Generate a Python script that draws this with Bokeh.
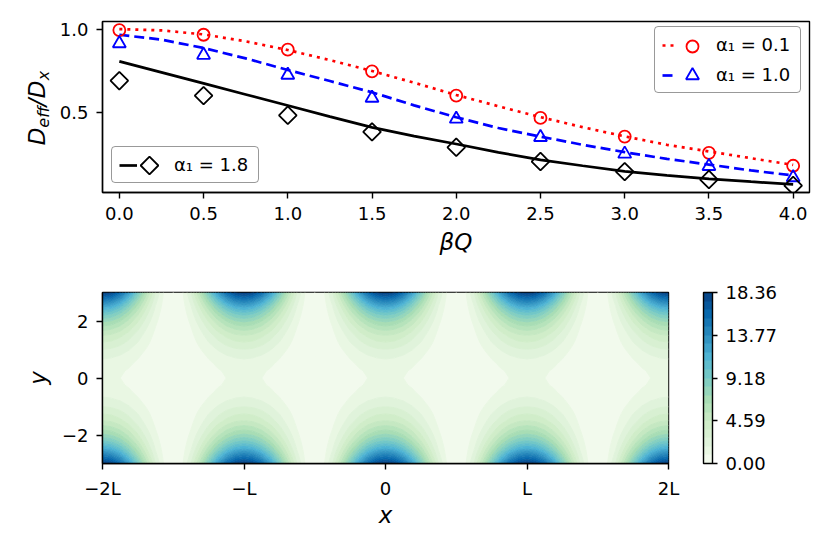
import numpy as np
from bokeh.embed import file_html
from bokeh.resources import INLINE
from bokeh.layouts import column, row
from bokeh.plotting import figure
from bokeh.models import (Range1d, FixedTicker, Legend, LegendItem, Label, ColorBar,
                          LinearColorMapper, PrintfTickFormatter)
from bokeh.core.properties import value

# ---- upper panel data -------------------------------------------------
beta_q_points = [0.0, 0.5, 1.0, 1.5, 2.0, 2.5, 3.0, 3.5, 4.0]
red_points = [0.994, 0.966, 0.877, 0.748, 0.603, 0.470, 0.359, 0.262, 0.185]
blue_points = [0.914, 0.845, 0.726, 0.589, 0.464, 0.355, 0.256, 0.182, 0.115]
black_points = [0.692, 0.603, 0.486, 0.387, 0.295, 0.210, 0.150, 0.103, 0.067]

beta_q_curve = [0.0, 0.25, 0.5, 0.75, 1.0, 1.25, 1.5, 1.75, 2.0, 2.25, 2.5, 2.75, 3.0, 3.25, 3.5, 3.75, 4.0]
red_curve = [1.0, 0.992, 0.968, 0.927, 0.875, 0.815, 0.75, 0.68, 0.607, 0.54, 0.475, 0.415, 0.36, 0.31, 0.27, 0.23, 0.19]
blue_curve = [0.966, 0.937, 0.887, 0.825, 0.756, 0.69, 0.623, 0.545, 0.474, 0.41, 0.359, 0.31, 0.266, 0.226, 0.192, 0.157, 0.127]
black_curve = [0.807, 0.742, 0.676, 0.61, 0.544, 0.478, 0.414, 0.362, 0.315, 0.265, 0.22, 0.185, 0.152, 0.128, 0.107, 0.09, 0.074]

x_tick_top = [0.0, 0.5, 1.0, 1.5, 2.0, 2.5, 3.0, 3.5, 4.0]
y_tick_top = [0.5, 1.0]

# ---- lower panel data: one quadrant ------------------------------------
# columns: x/L = 0, 1/16, ... 1/2 ; rows: y = 0, 0.25, ... 3
y_quarter = [0, 0.25, 0.5, 0.75, 1, 1.25, 1.5, 1.75, 2, 2.25, 2.5, 2.75, 3]
row_y000 = [1.08, 1.04, 0.92, 0.75, 0.54, 0.33, 0.16, 0.04, 0.0]
row_y025 = [1.20, 1.15, 1.02, 0.83, 0.60, 0.37, 0.18, 0.05, 0.0]
row_y050 = [1.50, 1.44, 1.28, 1.04, 0.75, 0.46, 0.22, 0.06, 0.0]
row_y075 = [2.00, 1.92, 1.71, 1.38, 1.00, 0.62, 0.29, 0.08, 0.0]
row_y100 = [2.72, 2.62, 2.32, 1.88, 1.36, 0.84, 0.40, 0.10, 0.0]
row_y125 = [3.63, 3.49, 3.10, 2.51, 1.82, 1.12, 0.53, 0.14, 0.0]
row_y150 = [4.60, 4.43, 3.93, 3.18, 2.30, 1.42, 0.67, 0.17, 0.0]
row_y175 = [5.95, 5.72, 5.08, 4.11, 2.98, 1.84, 0.87, 0.23, 0.0]
row_y200 = [7.55, 7.26, 6.45, 5.22, 3.78, 2.33, 1.10, 0.29, 0.0]
row_y225 = [9.55, 9.19, 8.16, 6.60, 4.78, 2.95, 1.39, 0.36, 0.0]
row_y250 = [12.0, 11.54, 10.25, 8.29, 6.00, 3.71, 1.75, 0.46, 0.0]
row_y275 = [15.0, 14.43, 12.81, 10.37, 7.50, 4.64, 2.19, 0.57, 0.0]
row_y300 = [18.36, 17.66, 15.68, 12.69, 9.18, 5.67, 2.68, 0.70, 0.0]
z_max = 18.36
band_colors = ["#f2faed", "#e9f7e3", "#e0f3db", "#d8f0d2", "#d0edc9", "#c5e8c2", "#b6e3bb",
               "#a8ddb5", "#96d6bb", "#84cfc1", "#72c7c7", "#60bdcd", "#4eb3d3", "#40a3cb",
               "#3294c2", "#2485ba", "#1676b3", "#0868ac", "#08589b", "#08488a"]
colorbar_ticks = [0.0, 4.59, 9.18, 13.77, 18.36]
x_tick_bottom = [-2, -1, 0, 1, 2]
x_tick_bottom_labels = ["\u22122L", "\u2212L", "0", "L", "2L"]
y_tick_bottom = [-2, 0, 2]
y_tick_bottom_labels = ["\u22122", "0", "2"]

# ---- style ------------------------------------------------------------
FONT = "DejaVu Sans"
TICK = "18px"
LABEL = "23px"


def style(p):
    p.grid.visible = False
    p.outline_line_color = "black"
    p.outline_line_width = 1.4
    for ax in (p.xaxis[0], p.yaxis[0]):
        ax.axis_line_color = "black"
        ax.axis_line_width = 1.4
        ax.major_tick_line_color = "black"
        ax.major_tick_line_width = 1.4
        ax.major_tick_in = 0
        ax.major_tick_out = 6
        ax.major_label_standoff = 8
        ax.minor_tick_line_color = None
        ax.major_label_text_font = FONT
        ax.major_label_text_font_size = TICK
        ax.major_label_text_color = "black"
        ax.axis_label_text_font = FONT
        ax.axis_label_text_font_size = LABEL
        ax.axis_label_text_font_style = "italic"
        ax.axis_label_text_color = "black"


# ---- strip that holds the upper panel's rotated y title -----------------
STRIP = 55
H1 = 268
strip_fig = figure(width=STRIP, height=H1, output_backend="svg", toolbar_location=None,
                   x_axis_location=None, y_axis_location=None, outline_line_color=None,
                   x_range=Range1d(0, STRIP), y_range=Range1d(0, H1), frame_align=False, min_border=0)
strip_fig.grid.visible = False
for txt, mid, base, size in [("D", 136, 36, "23px"), ("eff", 116.5, 42.5, "16px"), ("/", 102, 36, "23px"),
                             ("D", 89, 36, "23px"), ("x", 75, 42.5, "16px")]:
    strip_fig.add_layout(Label(x=base, y=H1 - mid, x_units="screen", y_units="screen", text=txt,
                               angle=np.pi / 2, text_font=FONT,
                               text_font_size=size, text_font_style="italic", text_color="black",
                               text_align="center", text_baseline="middle"))

# ---- upper panel ------------------------------------------------------
XR1 = (-0.1, 4.097)
YR1 = (0.0256, 1.045)
FL1, FR1, FT1, FB1 = 102, 809, 21, 192   # frame edges in page pixels
p1 = figure(width=822 - STRIP, height=H1, output_backend="svg", toolbar_location=None,
            x_range=Range1d(*XR1), y_range=Range1d(*YR1), frame_align=False,
            min_border_left=FL1 - STRIP, min_border_right=822 - FR1, min_border_top=FT1, min_border_bottom=H1 - FB1)
style(p1)
p1.xaxis[0].ticker = FixedTicker(ticks=x_tick_top)
p1.yaxis[0].ticker = FixedTicker(ticks=y_tick_top)
p1.xaxis[0].formatter = PrintfTickFormatter(format="%.1f")
p1.yaxis[0].formatter = PrintfTickFormatter(format="%.1f")
p1.xaxis[0].axis_label = "\u03b2Q"
p1.xaxis[0].axis_label_standoff = 6

LW = 2.7
l_red = p1.line(beta_q_curve, red_curve, line_color="red", line_width=LW, line_dash="3 5")
l_blue = p1.line(beta_q_curve, blue_curve, line_color="blue", line_width=LW, line_dash="10 5")
l_black = p1.line(beta_q_curve, black_curve, line_color="black", line_width=LW)
CIRC = dict(marker="circle", size=12, fill_color=None, line_color="red", line_width=1.8)
TRI = dict(marker="triangle", size=13, fill_color=None, line_color="blue", line_width=1.8)
DIA = dict(marker="square", angle=np.pi / 4, size=12.5, fill_color=None, line_color="black", line_width=1.8)
p1.scatter(beta_q_points, red_points, **CIRC)
p1.scatter(beta_q_points, blue_points, **TRI)
p1.scatter(beta_q_points, black_points, **DIA)

common = dict(background_fill_color=None, border_line_color="#333333",
              border_line_width=1.3, border_radius=4, label_text_font=FONT,
              label_text_font_size="18px", label_text_color="black", label_width=77,
              label_height=20, glyph_height=20, margin=0)
lg_right = Legend(items=[LegendItem(label=value("\u03b1\u2081 = 0.1"), renderers=[l_red]),
                         LegendItem(label=value("\u03b1\u2081 = 1.0"), renderers=[l_blue])],
                  location=(552, 99), glyph_width=15, label_standoff=39, spacing=9, padding=7, **common)
lg_left = Legend(items=[LegendItem(label=value("\u03b1\u2081 = 1.8"), renderers=[l_black])],
                 location=(9, 9), glyph_width=18, label_standoff=37, spacing=0, padding=7, **common)
p1.add_layout(lg_right)
p1.add_layout(lg_left)


def px1(px):
    return XR1[0] + (px - FL1) / (FR1 - FL1) * (XR1[1] - XR1[0])


def py1(py):
    return YR1[0] + (FB1 - py) / (FB1 - FT1) * (YR1[1] - YR1[0])


# legend keys: markers placed inside the legend boxes, beside the line samples
p1.scatter([px1(692)], [py1(46)], **CIRC)
p1.scatter([px1(692)], [py1(75)], **TRI)
p1.scatter([px1(149)], [py1(165)], **DIA)

# ---- lower panel ------------------------------------------------------
p2 = figure(width=822, height=266, output_backend="svg", toolbar_location=None,
            x_range=Range1d(-2, 2), y_range=Range1d(-3, 3), frame_align=False,
            min_border_left=FL1, min_border_right=822 - 668, min_border_top=24, min_border_bottom=71)
style(p2)
p2.xaxis[0].ticker = FixedTicker(ticks=x_tick_bottom)
p2.xaxis[0].major_label_overrides = dict(zip(x_tick_bottom, x_tick_bottom_labels))
p2.yaxis[0].ticker = FixedTicker(ticks=y_tick_bottom)
p2.yaxis[0].major_label_overrides = dict(zip(y_tick_bottom, y_tick_bottom_labels))
p2.xaxis[0].axis_label = "x"
p2.yaxis[0].axis_label = "y"
p2.xaxis[0].axis_label_standoff = 0
p2.yaxis[0].axis_label_standoff = 8

levels = [z_max * i / len(band_colors) for i in range(len(band_colors) + 1)]

quad = np.array([row_y000, row_y025, row_y050, row_y075, row_y100, row_y125, row_y150,
                 row_y175, row_y200, row_y225, row_y250, row_y275, row_y300])
cell = np.hstack([quad, quad[:, -2::-1]])                 # x: 0 .. L
strip = np.hstack([cell[:, :-1]] * 4 + [cell[:, :1]])     # four periods
field = np.vstack([strip[:0:-1], strip])                  # y: -3 .. 3
xs_full = np.arange(-32, 33) / 16
ys_full = np.array([-v for v in y_quarter[:0:-1]] + y_quarter)
p2.contour(xs_full, ys_full, field, levels, fill_color=band_colors,
           line_color=band_colors + band_colors[-1:], line_width=1)

mapper = LinearColorMapper(palette=band_colors, low=0, high=z_max)
cb = ColorBar(color_mapper=mapper, ticker=FixedTicker(ticks=colorbar_ticks),
              formatter=PrintfTickFormatter(format="%.2f"), width=9, height=171,
              padding=0, margin=0, location=(35, 0), bar_line_color="black", bar_line_width=1.4,
              major_tick_in=0, major_tick_out=5, major_tick_line_color="black", major_tick_line_width=1.4,
              minor_tick_line_color=None, label_standoff=8, major_label_text_font=FONT,
              major_label_text_font_size=TICK, major_label_text_color="black",
              background_fill_color=None)
p2.add_layout(cb, "right")

page = column(row(strip_fig, p1, spacing=0), p2, spacing=0)
open("out.html", "w").write(file_html(page, INLINE))
